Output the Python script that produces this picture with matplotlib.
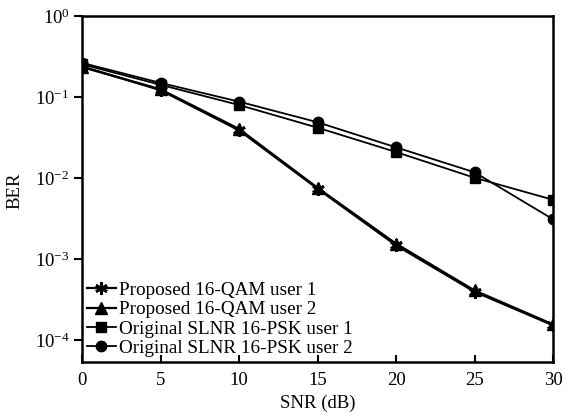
import matplotlib
matplotlib.use("Agg")
import matplotlib.pyplot as plt

snr = [0, 5, 10, 15, 20, 25, 30]
prop_u1 = [0.24, 0.122, 0.0390, 0.0074, 1.48e-3, 3.95e-4, 1.52e-4]
prop_u2 = [0.235, 0.125, 0.0405, 0.0076, 1.55e-3, 4.1e-4, 1.56e-4]
orig_u1 = [0.255, 0.142, 0.080, 0.042, 0.021, 0.0101, 5.4e-3]
orig_u2 = [0.265, 0.150, 0.088, 0.049, 0.024, 0.0118, 3.1e-3]
labels = ["Proposed 16-QAM user 1", "Proposed 16-QAM user 2",
          "Original SLNR 16-PSK user 1", "Original SLNR 16-PSK user 2"]

plt.rcParams['font.family'] = ['Liberation Serif', 'DejaVu Serif']
plt.rcParams['mathtext.fontset'] = 'stix'

fig = plt.figure(figsize=(5.68, 4.15), dpi=100)
ax = fig.add_axes([0.1444, 0.128, 0.8292, 0.833])

ax.semilogy(snr, prop_u1, color='black', lw=1.6, marker=(6, 2, 0), ms=9, mew=2, label=labels[0])
ax.semilogy(snr, prop_u2, color='black', lw=1.6, marker='^', ms=8, label=labels[1])
ax.semilogy(snr, orig_u1, color='black', lw=1.3, marker='s', ms=7.5, label=labels[2])
ax.semilogy(snr, orig_u2, color='black', lw=1.3, marker='o', ms=7.5, label=labels[3])

ax.set_xlim(0, 30)
ax.set_ylim(10 ** -4.27, 1)
ax.set_xticks([0, 5, 10, 15, 20, 25, 30])
ax.set_yticks([1, 1e-1, 1e-2, 1e-3, 1e-4])
ax.minorticks_off()
ax.tick_params(axis='x', direction='in', length=5, width=1.5, labelsize=13.5, pad=7)
ax.tick_params(axis='y', direction='out', length=6, width=1.5, labelsize=13.5, pad=3)
for s in ax.spines.values():
    s.set_linewidth(1.8)

ax.set_xlabel("SNR (dB)", fontsize=13.5, va='center')
ax.xaxis.set_label_coords(0.5, (362 - 403) / 346)
ax.set_ylabel("BER", fontsize=13.5, va='center')
ax.yaxis.set_label_coords((15 - 82) / 471, 0.495)

ax.legend(loc='lower left', frameon=False, fontsize=13.8, handlelength=1.5,
          handletextpad=0.2, labelspacing=0.1, borderaxespad=0.05, borderpad=0.2)

fig.savefig("out.png", dpi=100)
